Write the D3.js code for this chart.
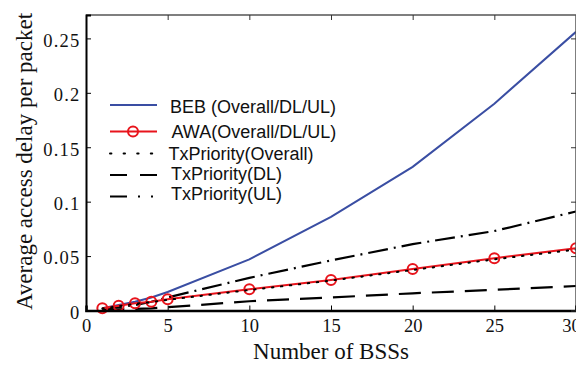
<!DOCTYPE html>
<html>
<head>
<meta charset="utf-8">
<script src="https://cdn.jsdelivr.net/npm/d3@7"></script>
<style>
  html, body { margin: 0; padding: 0; background: #fff; }
  svg { display: block; }
</style>
</head>
<body>
<svg id="chart" width="576" height="366"></svg>
<script>
// Number of BSSs on the horizontal axis
const bssCounts = [1, 2, 3, 4, 5, 10, 15, 20, 25, 30];

// Average access delay per packet for each scheme
const bebDelay = [0.002, 0.005, 0.008, 0.012, 0.017, 0.047, 0.086, 0.132, 0.190, 0.256];
const awaDelay = [0.002, 0.0044, 0.0066, 0.008, 0.0103, 0.0195, 0.028, 0.0381, 0.048, 0.0571];
const txOverallDelay = [0.0018, 0.0040, 0.0062, 0.0077, 0.0098, 0.0188, 0.0275, 0.0372, 0.0470, 0.0560];
const txDlDelay = [0.0005, 0.001, 0.0015, 0.002, 0.003, 0.0085, 0.012, 0.0158, 0.019, 0.0225];
const txUlDelay = [0.001, 0.003, 0.005, 0.008, 0.012, 0.030, 0.046, 0.061, 0.073, 0.091];

const xTicks = [0, 5, 10, 15, 20, 25, 30];
const yTicks = [0, 0.05, 0.1, 0.15, 0.2, 0.25];
const yTickLabels = ["0", "0.05", "0.1", "0.15", "0.2", "0.25"];

const legendLabels = [
  "BEB (Overall/DL/UL)",
  "AWA(Overall/DL/UL)",
  "TxPriority(Overall)",
  "TxPriority(DL)",
  "TxPriority(UL)"
];

const svg = d3.select("#chart");
const plotLeft = 86, plotRight = 576, plotTop = 15, plotBottom = 310.5;

const x = d3.scaleLinear().domain([0, 30]).range([plotLeft, plotRight]);
const y = d3.scaleLinear().domain([0, 0.2715]).range([plotBottom, plotTop]);

const serif = "'Liberation Serif', 'Times New Roman', serif";
const sans = "'Liberation Sans', Arial, sans-serif";

// Series styling (plot dash patterns, then the legend's shorter samples)
const series = [
  { values: bebDelay, color: "#3a4ea3", width: 2, dash: null, legendDash: null, markers: false },
  { values: awaDelay, color: "#e8141c", width: 2, dash: null, legendDash: null, markers: true },
  { values: txOverallDelay, color: "#000", width: 2, dash: "1.4,7.6", legendDash: "1.4,12.2", markers: false },
  { values: txDlDelay, color: "#000", width: 2.2, dash: "22,11", legendDash: "17,13,17", markers: false },
  { values: txUlDelay, color: "#000", width: 2.2, dash: "20,6,2,6", legendDash: "17,11,2,11,2,20", markers: false }
];

const line = d3.line()
  .x((d, i) => x(bssCounts[i]))
  .y(d => y(d));

// Dashed references first, then the solid curves, dotted on top
const drawOrder = [3, 4, 0, 1, 2];
drawOrder.forEach(k => {
  const s = series[k];
  svg.append("path")
    .datum(s.values)
    .attr("d", line)
    .attr("fill", "none")
    .attr("stroke", s.color)
    .attr("stroke-width", s.width)
    .attr("stroke-dasharray", s.dash)
    .attr("stroke-linecap", k === 2 ? "round" : "butt");
  if (s.markers) {
    svg.append("g").selectAll("circle")
      .data(s.values)
      .join("circle")
      .attr("cx", (d, i) => x(bssCounts[i]))
      .attr("cy", d => y(d))
      .attr("r", 5)
      .attr("fill", "none")
      .attr("stroke", s.color)
      .attr("stroke-width", 2);
  }
});

// Frame: top and right in grey, left and bottom in black
svg.append("line").attr("x1", plotLeft).attr("x2", plotRight).attr("y1", plotTop).attr("y2", plotTop)
  .attr("stroke", "#555").attr("stroke-width", 1.5);
svg.append("line").attr("x1", plotRight).attr("x2", plotRight).attr("y1", plotTop).attr("y2", plotBottom)
  .attr("stroke", "#555").attr("stroke-width", 1.5);

// Bottom axis with inward ticks
const xAxis = d3.axisBottom(x).tickValues(xTicks).tickSize(-5).tickPadding(8).tickFormat(d3.format("d"));
const gx = svg.append("g").attr("transform", `translate(0,${plotBottom})`).call(xAxis);
gx.select(".domain").attr("stroke", "#000").attr("stroke-width", 2.5);
gx.selectAll(".tick line").attr("stroke", "#000").attr("stroke-width", 1);
gx.selectAll(".tick text").attr("font-family", serif).attr("font-size", 18.5).attr("fill", "#111")
  // the label at the right edge is nudged inward a little
  .attr("dx", d => d === 30 ? -5 : 0);

// Top ticks
const xTop = d3.axisTop(x).tickValues(xTicks).tickSize(-5).tickFormat("");
const gxt = svg.append("g").attr("transform", `translate(0,${plotTop})`).call(xTop);
gxt.select(".domain").remove();
gxt.selectAll(".tick line").attr("stroke", "#333").attr("stroke-width", 1);

// Left axis with inward ticks
const yAxis = d3.axisLeft(y).tickValues(yTicks).tickSize(-5).tickPadding(5.5)
  .tickFormat((d, i) => yTickLabels[i]);
const gy = svg.append("g").attr("transform", `translate(${plotLeft},0)`).call(yAxis);
gy.select(".domain").attr("stroke", "#000").attr("stroke-width", 2);
gy.selectAll(".tick line").attr("stroke", "#000").attr("stroke-width", 1);
gy.selectAll(".tick text").attr("font-family", serif).attr("font-size", 18.5)
  .attr("letter-spacing", "1.2px").attr("dy", "0.42em").attr("fill", "#111");

// Right ticks
const yRight = d3.axisRight(y).tickValues(yTicks).tickSize(-5).tickFormat("");
const gyr = svg.append("g").attr("transform", `translate(${plotRight},0)`).call(yRight);
gyr.select(".domain").remove();
gyr.selectAll(".tick line").attr("stroke", "#333").attr("stroke-width", 1);

// Axis titles
svg.append("text")
  .attr("x", (plotLeft + plotRight) / 2).attr("y", 359)
  .attr("text-anchor", "middle")
  .attr("font-family", serif).attr("font-size", 23).attr("fill", "#111")
  .text("Number of BSSs");

svg.append("text")
  .attr("transform", `translate(31.5,161.5) rotate(-90)`)
  .attr("text-anchor", "middle")
  .attr("font-family", serif).attr("font-size", 23).attr("fill", "#111")
  .text("Average access delay per packet");

// Legend
const legendLineRows = [105, 131.5, 153.5, 175, 196.5];
const legendTextRows = [106.5, 131.5, 153.5, 174, 194];
const legendTextX = [170, 171.5, 168.5, 171, 171];
const lg = svg.append("g");
series.forEach((s, i) => {
  const ly = legendLineRows[i];
  lg.append("line")
    .attr("x1", 110).attr("x2", 157).attr("y1", ly).attr("y2", ly)
    .attr("stroke", s.color).attr("stroke-width", s.width)
    .attr("stroke-dasharray", s.legendDash)
    .attr("stroke-linecap", i === 2 ? "round" : "butt");
  if (s.markers) {
    lg.append("circle").attr("cx", 133).attr("cy", ly).attr("r", 5)
      .attr("fill", "none").attr("stroke", s.color).attr("stroke-width", 2);
  }
  lg.append("text")
    .attr("x", legendTextX[i]).attr("y", legendTextRows[i]).attr("dy", "0.35em")
    .attr("font-family", sans).attr("font-size", 18).attr("fill", "#111")
    .text(legendLabels[i]);
});
</script>
</body>
</html>
